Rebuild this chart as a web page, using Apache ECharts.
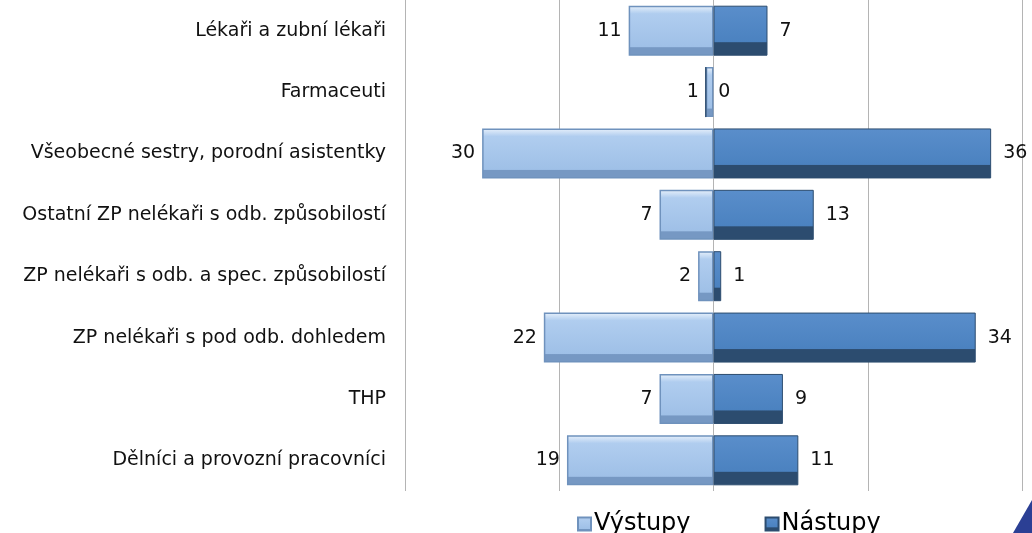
<!DOCTYPE html>
<html>
<head>
<meta charset="utf-8">
<script src="https://cdn.jsdelivr.net/npm/echarts@6/dist/echarts.min.js"></script>
<style>
  html, body { margin: 0; padding: 0; background: #fff; }
  #chart { width: 1032px; height: 533px; }
</style>
</head>
<body>
<div id="chart"></div>
<script>
// data
var categories = [
  'Lékaři a zubní lékaři',
  'Farmaceuti',
  'Všeobecné sestry, porodní asistentky',
  'Ostatní ZP nelékaři s odb. způsobilostí',
  'ZP nelékaři s odb. a spec. způsobilostí',
  'ZP nelékaři s pod odb. dohledem',
  'THP',
  'Dělníci a provozní pracovníci'
]
var vystupy = [11, 1, 30, 7, 2, 22, 7, 19]
var nastupy = [7, 0, 36, 13, 1, 34, 9, 11]
var seriesNames = ['Výstupy', 'Nástupy']

var font = 'DejaVu Sans, Verdana, sans-serif'

var lightFill = new echarts.graphic.LinearGradient(0, 0, 0, 1, [
  { offset: 0, color: '#e8f1fb' },
  { offset: 0.16, color: '#b0cdef' },
  { offset: 0.82, color: '#9fc0e7' },
  { offset: 0.84, color: '#7698c3' },
  { offset: 1, color: '#7698c3' }
])
var darkFill = new echarts.graphic.LinearGradient(0, 0, 0, 1, [
  { offset: 0, color: '#5a8ecb' },
  { offset: 0.72, color: '#4b82c0' },
  { offset: 0.74, color: '#2c4c6f' },
  { offset: 1, color: '#2c4c6f' }
])

var chart = echarts.init(document.getElementById('chart'))
var option = {
  animation: false,
  grid: { left: 405, right: 10, top: 0, bottom: 42 },
  legend: {
    data: seriesNames,
    left: 572,
    top: 507,
    itemWidth: 13,
    itemHeight: 13,
    itemGap: 74,
    icon: 'rect',
    textStyle: { fontFamily: font, fontSize: 24, color: '#000', padding: [0, 0, 0, -2] }
  },
  xAxis: {
    type: 'value',
    min: -40,
    max: 40,
    interval: 20,
    axisLabel: { show: false },
    axisLine: { show: false },
    axisTick: { show: false },
    splitLine: { show: true, lineStyle: { color: '#b4b4b4', width: 1 } }
  },
  yAxis: {
    type: 'category',
    data: categories,
    inverse: true,
    axisLine: { show: false },
    axisTick: { show: false },
    axisLabel: { fontFamily: font, fontSize: 19, color: '#111', margin: 19 }
  },
  series: [
    {
      name: seriesNames[0],
      type: 'bar',
      stack: 'all',
      barWidth: 50,
      data: vystupy.map(function (v) { return -v }),
      itemStyle: { color: lightFill, borderColor: '#6f92bd', borderWidth: 1.5 },
      label: {
        show: true,
        position: 'left',
        distance: 7,
        fontFamily: font,
        fontSize: 19,
        color: '#111',
        formatter: function (p) { return Math.abs(p.value) }
      }
    },
    {
      name: seriesNames[1],
      type: 'bar',
      stack: 'all',
      barWidth: 50,
      data: nastupy,
      itemStyle: { color: darkFill, borderColor: '#2c4c6f', borderWidth: 1 },
      label: {
        show: true,
        position: 'right',
        distance: 12,
        fontFamily: font,
        fontSize: 19,
        color: '#111'
      }
    }
  ],
  graphic: [
    {
      type: 'polygon',
      shape: { points: [[1032, 500], [1013, 533], [1032, 533]] },
      style: { fill: '#2b3f94' }
    }
  ]
}
chart.setOption(option)
</script>
</body>
</html>
